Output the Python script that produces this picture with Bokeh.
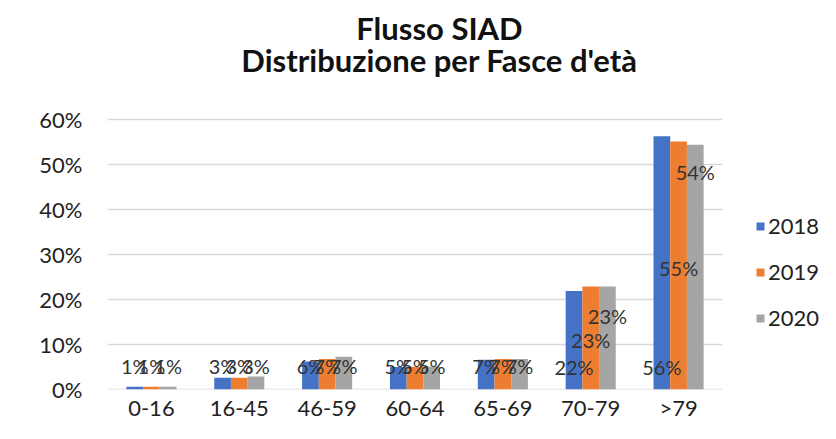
from bokeh.plotting import figure
from bokeh.models import (ColumnDataSource, Range1d, NumeralTickFormatter,
                          Legend, LegendItem, FixedTicker)
from bokeh.transform import dodge
from bokeh.core.properties import value
from bokeh.embed import file_html
from bokeh.resources import INLINE

categories = ["0-16", "16-45", "46-59", "60-64", "65-69", "70-79", ">79"]
years = ["2018", "2019", "2020"]
v2018 = [0.006, 0.026, 0.062, 0.050, 0.066, 0.219, 0.563]
v2019 = [0.006, 0.026, 0.068, 0.050, 0.068, 0.229, 0.551]
v2020 = [0.006, 0.029, 0.073, 0.051, 0.068, 0.229, 0.544]
# vertical anchor of each data label (as placed in the original chart)
lab2018 = [0.052, 0.052, 0.052, 0.052, 0.052, 0.050, 0.050]
lab2019 = [0.052, 0.052, 0.052, 0.052, 0.052, 0.110, 0.269]
lab2020 = [0.052, 0.052, 0.052, 0.052, 0.052, 0.163, 0.484]
y_ticks = [0, 0.1, 0.2, 0.3, 0.4, 0.5, 0.6]
title_lines = ["Flusso SIAD", "Distribuzione per Fasce d'età"]

colors = ["#4472C4", "#ED7D31", "#A5A5A5"]
FONT = "Lato"
series = [v2018, v2019, v2020]
labs = [lab2018, lab2019, lab2020]
n = len(categories)
centers = [i + 0.5 for i in range(n)]

data = dict(cat=categories, xc=centers)
for y, vals, ly in zip(years, series, labs):
    data["v" + y] = vals
    data["l" + y] = ly
    data["t" + y] = [f"{round(v * 100)}%" for v in vals]
src = ColumnDataSource(data)

# frame spans the whole drawing area; the value area occupies x 0..n, y 0..0.6
W, H = 820, 423
LEFT, BOTTOM = 107, 31
px_per_cat = 615 / n
px_per_unit = 272 / max(y_ticks)
x_end = (W - LEFT) / px_per_cat
y_end = (H - BOTTOM) / px_per_unit

p = figure(x_range=Range1d(0, x_end), y_range=Range1d(0, y_end),
           width=W, height=H, output_backend="svg", toolbar_location=None,
           min_border_left=LEFT, min_border_right=0, min_border_top=0,
           min_border_bottom=BOTTOM)

# gridlines limited to the value area
p.segment(x0=0, x1=n, y0=y_ticks, y1=y_ticks, line_color="#d9d9d9", line_width=1.5)

offsets = [-0.19, 0.0, 0.19]
items = []
for y, c, off in zip(years, colors, offsets):
    r = p.vbar(x=dodge("xc", off), top="v" + y, width=0.19,
               source=src, fill_color=c, line_color=None)
    items.append(LegendItem(label=y, renderers=[r]))
for y, off in zip(years, offsets):
    p.text(x=dodge("xc", off), y="l" + y, text="t" + y, source=src,
           text_align="center", text_baseline="middle", text_font=value(FONT),
           text_font_size="20px", text_color="#333333")

# two-line chart title
title_x = (439 - LEFT) / px_per_cat
title_y = [(H - BOTTOM - 28) / px_per_unit, (H - BOTTOM - 60) / px_per_unit]
p.text(x=[title_x, title_x], y=title_y, text=title_lines,
       text_align="center", text_baseline="middle", text_font=value(FONT),
       text_font_size="31px", text_font_style="bold", text_color="#111111")

legend = Legend(items=items, location=(648, 58), orientation="vertical",
                glyph_width=10, glyph_height=10, label_standoff=3, spacing=19,
                padding=0, margin=0, border_line_color=None, background_fill_alpha=0,
                label_text_font=FONT, label_text_font_size="22px",
                label_text_color="#222222")
p.add_layout(legend, "center")

p.outline_line_color = None
p.xgrid.grid_line_color = None
p.ygrid.grid_line_color = None

p.yaxis.ticker = FixedTicker(ticks=y_ticks)
p.yaxis.formatter = NumeralTickFormatter(format="0%")
p.yaxis.axis_line_color = None
p.yaxis.major_tick_line_color = None
p.yaxis.minor_tick_line_color = None
p.yaxis.major_tick_out = 0
p.yaxis.major_label_standoff = 25
p.yaxis.major_label_text_font = FONT
p.yaxis.major_label_text_font_size = "22px"
p.yaxis.major_label_text_color = "#222222"

p.xaxis.ticker = FixedTicker(ticks=centers)
p.xaxis.major_label_overrides = {c: cat for c, cat in zip(centers, categories)}
p.xaxis.axis_line_color = None
p.xaxis.major_tick_line_color = None
p.xaxis.minor_tick_line_color = None
p.xaxis.major_tick_out = 0
p.xaxis.major_label_standoff = 4
p.xaxis.major_label_text_font = FONT
p.xaxis.major_label_text_font_size = "22px"
p.xaxis.major_label_text_color = "#222222"

open("out.html", "w").write(file_html(p, INLINE))
